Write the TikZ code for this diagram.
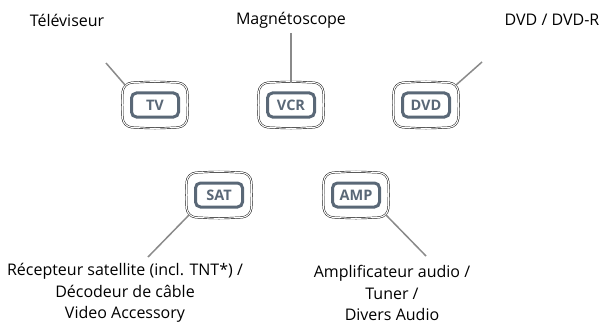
\documentclass[tikz,border=0pt]{standalone}
\usepackage{fontspec}
\setmainfont{Open Sans}
\definecolor{keygray}{HTML}{5A6877}
\definecolor{leadgray}{HTML}{8A8A8A}
\begin{document}
\begin{tikzpicture}[x=1pt, y=-1pt, font=\fontsize{16}{21.5}\selectfont]
    \tikzstyle{keyframe} = [rectangle, minimum width=65pt, minimum height=45pt, inner sep=0pt]
    \tikzstyle{frameline} = [draw=black, line width=0.45pt, double, double distance=1.1pt, rounded corners=9pt]
    \tikzstyle{keycap} = [rectangle, draw=keygray, line width=3pt, rounded corners=5pt,
        minimum width=47pt, minimum height=24pt, inner sep=0pt, text=keygray,
        font=\fontsize{14.5}{16}\selectfont\bfseries]
    \tikzstyle{lead} = [draw=leadgray, line width=1.5pt]
    \tikzstyle{caption} = [align=center, inner sep=0pt]

    \useasboundingbox (0,0) rectangle (609,326);

    \node[keyframe] (tv) at (155, 105) {};
    \node[keyframe] (vcr) at (291, 105) {};
    \node[keyframe] (dvd) at (426, 105) {};
    \node[keyframe] (sat) at (219, 195) {};
    \node[keyframe] (amp) at (356, 195) {};

    % outlines of the keys
    \foreach \k in {tv, vcr, dvd, sat, amp}
        \draw[frameline, shift={(\k.center)}] (-33,0) -- (-32,-22) -- (0,-23.5) -- (32,-22)
            -- (33,0) -- (32,22) -- (0,23.5) -- (-32,22) -- cycle;

    \node[keycap] (tvkey) at (tv) {TV};
    \node[keycap] (vcrkey) at (vcr) {VCR};
    \node[keycap] (dvdkey) at (dvd) {DVD};
    \node[keycap] (satkey) at (sat) {SAT};
    \node[keycap] (ampkey) at (amp) {AMP};

    \node[caption] (tvtext) at (67, 20) {Téléviseur};
    \node[caption] (vcrtext) at (291, 20) {Magnétoscope};
    \node[caption] (dvdtext) at (552, 20) {DVD / DVD-R};
    \node[caption] (sattext) at (125, 293) {Récepteur satellite (incl. TNT*) /\\Décodeur de câble\\Video Accessory};
    \node[caption] (amptext) at (392, 293) {Amplificateur audio /\\Tuner /\\Divers Audio};

    \coordinate (tvend) at (106, 63);
    \coordinate (vcrend) at (291, 33);
    \coordinate (dvdend) at (482, 62);
    \coordinate (satend) at (148, 257);
    \coordinate (ampend) at (426, 256);

    \draw[lead] (tvend) -- ([shift={(3,3)}]tv.north west);
    \draw[lead] (vcrend) -- ([yshift=-1pt]vcr.north);
    \draw[lead] (dvdend) -- ([shift={(-3,3)}]dvd.north east);
    \draw[lead] (satend) -- ([shift={(3,-3)}]sat.south west);
    \draw[lead] (ampend) -- ([shift={(-3,-3)}]amp.south east);
\end{tikzpicture}
\end{document}
